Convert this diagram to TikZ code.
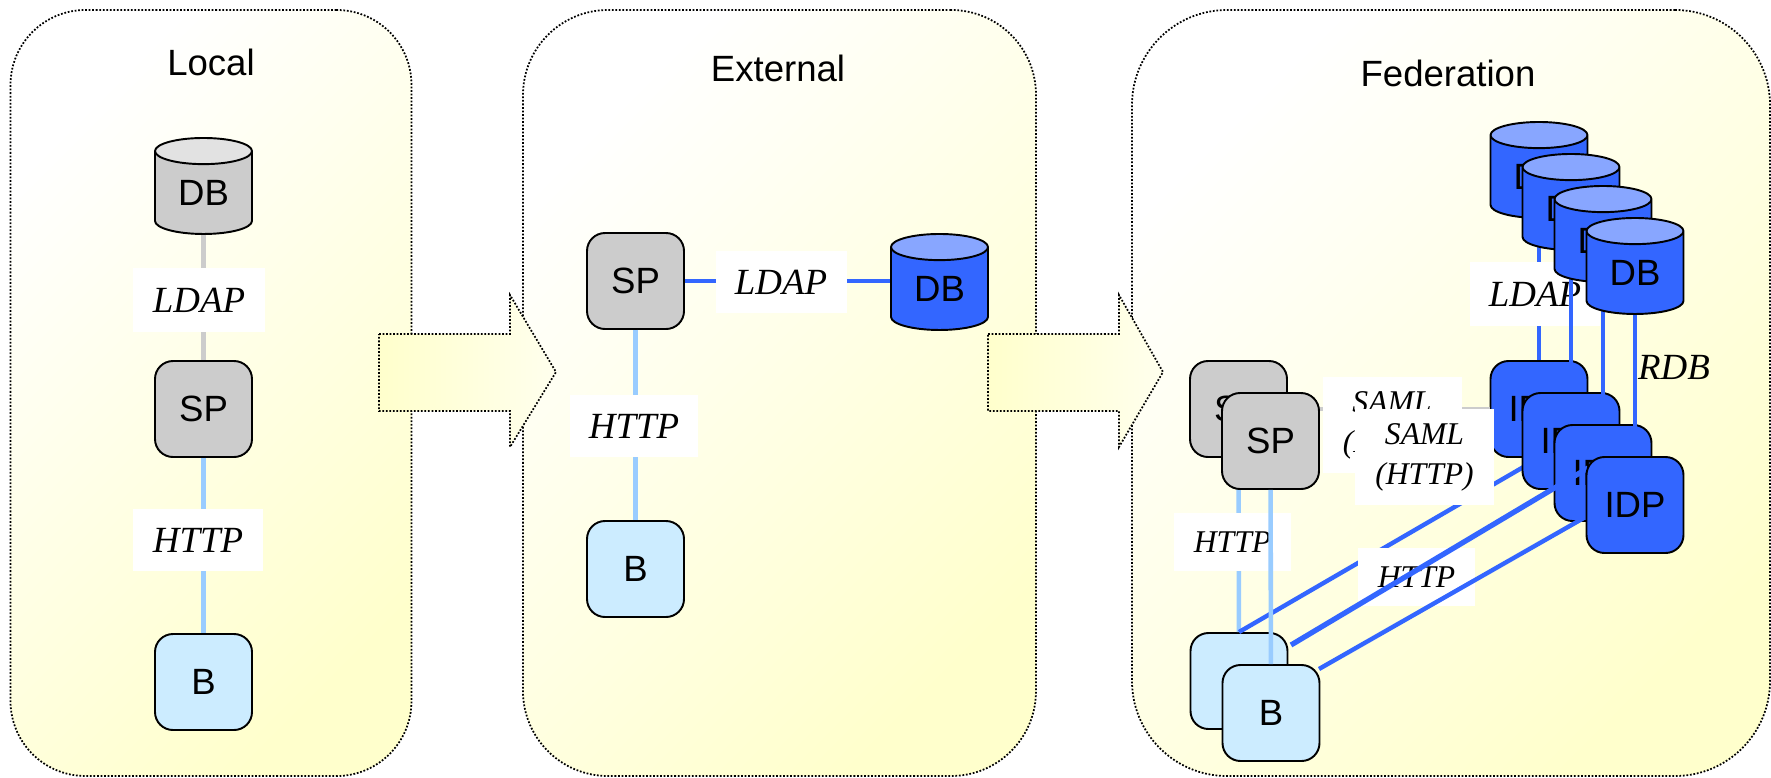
\documentclass[tikz,border=0pt]{standalone}
\usepackage{fontspec}
\setmainfont{Liberation Sans}
\newfontfamily\protofont{Liberation Serif}
\usepackage{tikz}
\usetikzlibrary{shapes.geometric}

\definecolor{panelyellow}{HTML}{FFFFCC}
\definecolor{greybox}{HTML}{CCCCCC}
\definecolor{greytop}{HTML}{E2E2E2}
\definecolor{bluebox}{HTML}{3366FF}
\definecolor{bluetop}{HTML}{88A6FF}
\definecolor{browserbox}{HTML}{CCECFF}
\definecolor{httpline}{HTML}{99CCFF}

\tikzset{
    panelbox/.style = {draw, densely dotted, line width = 1pt, shading = axis,
        top color = white, bottom color = panelyellow, shading angle = 45},
    movearrow/.style = {draw, densely dotted, line width = 1pt, left color = panelyellow,
        right color = panelyellow!35},
    serverbox/.style = {draw, line width = 1.1pt, rounded corners = .36cm,
        minimum width = 1.94cm, minimum height = 1.92cm, inner sep = 0,
        font = \fontsize{20.8}{20.8}\selectfont},
    spbox/.style = {serverbox, fill = greybox},
    idpbox/.style = {serverbox, fill = bluebox},
    bbox/.style = {serverbox, fill = browserbox},
    dbcyl/.style = {draw, line width = 1.1pt, cylinder, shape border rotate = 90,
        aspect = .515, minimum width = 1.94cm, minimum height = 1.92cm, inner sep = 0,
        cylinder uses custom fill, font = \fontsize{20.8}{20.8}\selectfont},
    greydb/.style = {dbcyl, cylinder body fill = greybox, cylinder end fill = greytop},
    bluedb/.style = {dbcyl, cylinder body fill = bluebox, cylinder end fill = bluetop},
    proto/.style = {fill = white, inner sep = 0, align = center,
        font = \protofont\itshape\fontsize{21}{21}\selectfont},
    protosmall/.style = {proto, font = \protofont\itshape\fontsize{18}{22.7}\selectfont},
    greyline/.style = {greybox, line width = 2.6pt},
    blueline/.style = {bluebox, line width = 2.5pt},
    lightline/.style = {httpline, line width = 2.6pt},
    paneltitle/.style = {font = \fontsize{20.8}{20.8}\selectfont}
}

\begin{document}
\begin{tikzpicture}[x = .2mm, y = -.2mm]
    \useasboundingbox (0, 0) rectangle (1771, 777);

    %% panels
    \node[panelbox, rounded corners = 1.5cm, minimum width = 8.02cm, minimum height = 15.32cm]
        (localpanel) at (211, 393) {};
    \node[panelbox, rounded corners = 1.7cm, minimum width = 10.26cm, minimum height = 15.32cm]
        (extpanel) at (779.5, 393) {};
    \node[panelbox, rounded corners = 1.9cm, minimum width = 12.76cm, minimum height = 15.32cm]
        (fedpanel) at (1451, 393) {};
    \node[paneltitle] (localtitle) at (211, 62) {Local};
    \node[paneltitle] (exttitle) at (778, 68) {External};
    \node[paneltitle] (fedtitle) at (1448, 73) {Federation};

    %% arrows between the panels
    \draw[movearrow] (379, 334) -- (510, 334) -- (510, 295) -- (556, 372)
        -- (510, 447) -- (510, 411) -- (379, 411) -- cycle;
    \draw[movearrow] (988, 334) -- (1119, 334) -- (1119, 295) -- (1163, 372)
        -- (1119, 447) -- (1119, 411) -- (988, 411) -- cycle;

    %% local
    \node[greydb] (localdb) at (203.5, 193) {DB};
    \node[spbox] (localsp) at (203.5, 409) {SP};
    \node[bbox] (localb) at (203.5, 682) {B};
    \draw[greyline] (localdb) -- (localsp);
    \draw[lightline] (localsp) -- (localb);
    \node[proto, minimum width = 2.64cm, minimum height = 1.28cm] (localldap) at (199, 300) {LDAP};
    \node[proto, minimum width = 2.6cm, minimum height = 1.24cm] (localhttp) at (198, 540) {HTTP};

    %% external
    \node[spbox] (extsp) at (635.5, 281) {SP};
    \node[bluedb] (extdb) at (939.5, 289) {DB};
    \node[bbox] (extb) at (635.5, 569) {B};
    \draw[blueline] (extsp) -- (extdb.west |- extsp);
    \draw[lightline] (extsp) -- (extb);
    \node[proto, minimum width = 2.62cm, minimum height = 1.24cm] (extldap) at (781, 282) {LDAP};
    \node[proto, minimum width = 2.56cm, minimum height = 1.24cm] (exthttp) at (634, 426) {HTTP};

    %% federation, first layer
    \node[bluedb] (feddba) at (1539, 177) {DB};
    \node[idpbox] (fedidpa) at (1539, 409) {IDP};
    \node[spbox] (fedspa) at (1238.5, 409) {SP};
    \node[bbox] (fedba) at (1239, 681) {B};
    \draw[blueline] (feddba) -- (fedidpa);
    \draw[greyline] (fedspa) -- (fedidpa);
    \draw[lightline] (fedspa) -- (fedba);
    \draw[blueline] (fedba.north) -- (fedidpa.south);
    \node[protosmall, minimum width = 2.78cm, minimum height = 1.92cm] (fedsamla) at (1392, 425) {SAML\\(HTTP)};
    \node[proto, minimum width = 2.6cm, minimum height = 1.28cm] (fedldap) at (1535, 294) {LDAP};
    \node[protosmall, minimum width = 2.34cm, minimum height = 1.16cm] (fedhttpa) at (1232.5, 542) {HTTP};
    \node[protosmall, minimum width = 2.34cm, minimum height = 1.16cm] (fedhttpb) at (1416.5, 577) {HTTP};

    %% federation, second layer
    \node[bluedb] (feddbb) at (1571, 209) {DB};
    \node[idpbox] (fedidpb) at (1571, 441) {IDP};
    \node[spbox] (fedspb) at (1270.5, 441) {SP};
    \node[bbox] (fedbb) at (1271, 713) {B};
    \draw[blueline] (feddbb) -- (fedidpb);
    \draw[lightline] (fedspb) -- (fedbb);
    \node[protosmall, minimum width = 2.78cm, minimum height = 1.92cm] (fedsamlb) at (1424.5, 457) {SAML\\(HTTP)};

    %% federation, third layer
    \node[bluedb] (feddbc) at (1603, 241) {DB};
    \node[idpbox] (fedidpc) at (1603, 473) {IDP};
    \draw[blueline] (feddbc) -- (fedidpc);
    \coordinate (fedbaout) at (1291, 645);
    \coordinate (fedidpcin) at (1588, 468);
    \draw[blueline, line width = 3pt] (fedbaout) -- (fedidpcin);
    \coordinate (fedbbout) at (1319, 669);
    \coordinate (fedidpcend) at (1603, 507);
    \draw[blueline] (fedbbout) -- (fedidpcend);

    %% federation, last layer
    \node[bluedb] (feddbd) at (1635, 273) {DB};
    \node[idpbox] (fedidpd) at (1635, 505) {IDP};
    \draw[blueline] (feddbd) -- (fedidpd);
    \node[proto, fill = none] (fedrdb) at (1674, 367) {RDB};
\end{tikzpicture}
\end{document}
